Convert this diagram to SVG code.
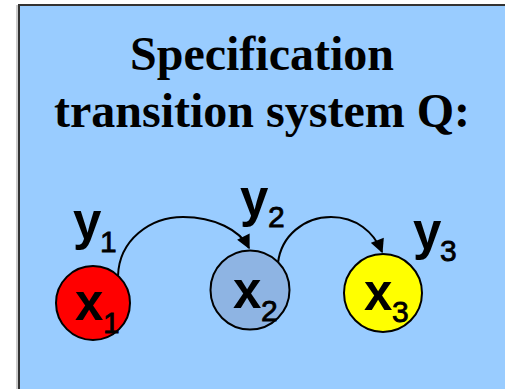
<svg xmlns="http://www.w3.org/2000/svg" width="505" height="389" viewBox="0 0 505 389">
<style>
.title{font-family:"Liberation Serif","Times New Roman",serif;font-weight:bold;font-size:48px;fill:#000}
.lbl{font-family:"Liberation Sans",Arial,sans-serif;font-weight:bold;font-size:51px;fill:#000}
.sub{font-family:"Liberation Sans",Arial,sans-serif;font-weight:normal;font-size:30px;fill:#000;stroke:#000;stroke-width:0.8}
.node{stroke:#000;stroke-width:2}
.edge{fill:none;stroke:#000;stroke-width:2;marker-end:url(#arr)}
</style>
<defs>
<marker id="arr" viewBox="0 0 10 10" refX="9" refY="5" markerWidth="8" markerHeight="7" orient="auto" markerUnits="strokeWidth">
<path d="M0,0 L10,5 L0,10 z" fill="#000"/>
</marker>
</defs>
<rect x="16" y="5" width="600" height="400" fill="#cccccc"/>
<rect x="19" y="5" width="600" height="400" fill="#99CCFF" stroke="#333" stroke-width="2"/>
<text class="title" x="262" y="70" text-anchor="middle">Specification</text>
<text class="title" x="262" y="127" text-anchor="middle">transition system Q:</text>
<g id="connectors">
<path class="edge" d="M118,276 C119,240 150,217 183,217 C214,217 240,230 249,248"/>
<path class="edge" d="M278,263 C281,236 304,217 331,217 C356,217 374,232 382,252"/>
</g>
<g id="x1">
<circle class="node" cx="93" cy="303" r="37" fill="#FF0000"/>
<text class="lbl" x="75" y="320">x</text>
<text class="sub" x="103" y="333">1</text>
</g>
<g id="x2">
<circle class="node" cx="250" cy="290" r="39.5" fill="#8EB4E3"/>
<text class="lbl" x="233" y="308">x</text>
<text class="sub" x="261" y="321">2</text>
</g>
<g id="x3">
<circle class="node" cx="383" cy="293" r="39" fill="#FFFF00"/>
<text class="lbl" x="364" y="310">x</text>
<text class="sub" x="392" y="322">3</text>
</g>
<g id="labels">
<text class="lbl" x="73" y="239">y</text>
<text class="sub" x="100" y="252">1</text>
<text class="lbl" x="240" y="216">y</text>
<text class="sub" x="268" y="227">2</text>
<text class="lbl" x="413" y="249">y</text>
<text class="sub" x="440" y="261">3</text>
</g>
</svg>
